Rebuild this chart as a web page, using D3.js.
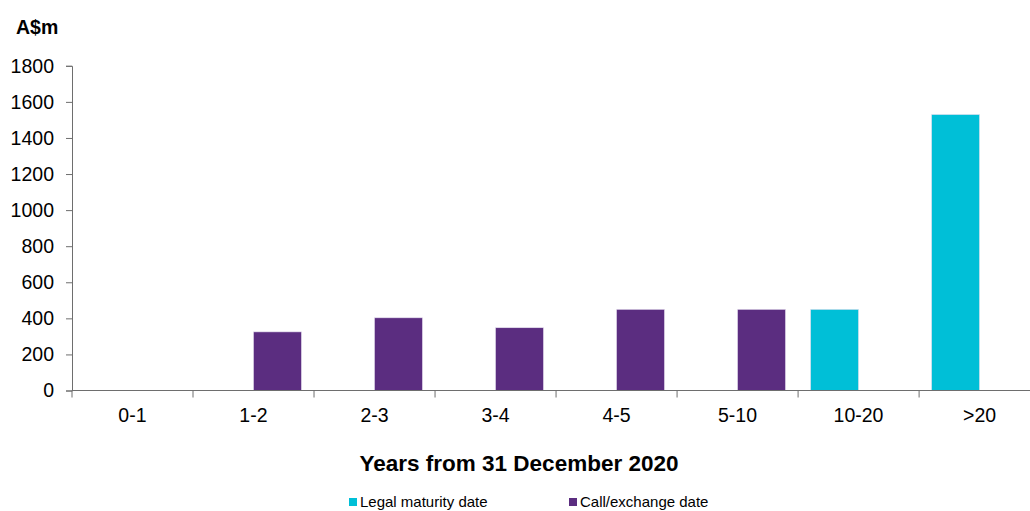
<!DOCTYPE html>
<html>
<head>
<meta charset="utf-8">
<script src="https://cdn.jsdelivr.net/npm/d3@7"></script>
<style>
  body { margin: 0; background: #fff; }
  svg { display: block; font-family: "Liberation Sans", Arial, sans-serif; }
</style>
</head>
<body>
<svg id="canvas" width="1030" height="511"></svg>
<script>
const categories = ["0-1", "1-2", "2-3", "3-4", "4-5", "5-10", "10-20", ">20"];
const series_names = ["Legal maturity date", "Call/exchange date"];
const series_colors = ["#00bfd7", "#5b2d80"];
const legal_maturity = [0, 0, 0, 0, 0, 0, 450, 1530];
const call_exchange = [0, 325, 403, 348, 450, 450, 0, 0];
const y_ticks = [0, 200, 400, 600, 800, 1000, 1200, 1400, 1600, 1800];

const svg = d3.select("svg#canvas");

const x = d3.scaleBand()
    .domain(categories)
    .range([72, 1040])
    .paddingInner(0.207)
    .paddingOuter(0.103);

const x_inner = d3.scaleBand()
    .domain(series_names)
    .range([0, x.bandwidth()]);

const y = d3.scaleLinear()
    .domain([0, 1800])
    .range([390.5, 65.8]);

const rows = categories.map((c, i) => ({
    cat: c,
    vals: [legal_maturity[i], call_exchange[i]]
}));

// bars
svg.append("g")
    .selectAll("g")
    .data(rows)
    .join("g")
    .attr("transform", d => `translate(${x(d.cat)},0)`)
    .selectAll("rect")
    .data(d => d.vals.map((v, j) => ({ name: series_names[j], v: v, j: j })))
    .join("rect")
    .filter(d => d.v > 0)
    .attr("x", d => x_inner(d.name))
    .attr("width", x_inner.bandwidth())
    .attr("y", d => y(d.v))
    .attr("height", d => y(0) - y(d.v))
    .attr("fill", d => series_colors[d.j])
    .attr("stroke", "#e6e0ef")
    .attr("stroke-width", 0.6);

// y axis
const y_axis = svg.append("g")
    .attr("transform", "translate(72,0)")
    .call(d3.axisLeft(y).tickValues(y_ticks).tickSize(6).tickPadding(12).tickFormat(d3.format("d")));

// x axis
const x_step = x.step();
const x_ticks = d3.range(categories.length + 1).map(i => 72 + i * x_step);
const x_axis = svg.append("g").attr("transform", `translate(0,${y(0)})`);
x_axis.append("line")
    .attr("x1", 72).attr("x2", 1040)
    .attr("stroke", "#6e6e6e");
x_axis.selectAll("line.tk")
    .data(x_ticks)
    .join("line")
    .attr("class", "tk")
    .attr("x1", d => d).attr("x2", d => d)
    .attr("y1", 0).attr("y2", 7)
    .attr("stroke", "#6e6e6e");
x_axis.selectAll("text")
    .data(categories)
    .join("text")
    .attr("x", d => x(d) + x.bandwidth() / 2)
    .attr("y", 31)
    .attr("text-anchor", "middle")
    .attr("font-size", 19.5)
    .attr("fill", "#000")
    .text(d => d);

y_axis.select(".domain").attr("stroke", "#6e6e6e");
y_axis.selectAll(".tick line").attr("stroke", "#6e6e6e");
y_axis.selectAll(".tick text")
    .attr("font-size", 19.5)
    .attr("fill", "#000")
    .attr("font-family", "Liberation Sans, Arial, sans-serif");

// unit label
svg.append("text")
    .attr("x", 16).attr("y", 34)
    .attr("font-size", 19.5)
    .attr("font-weight", "bold")
    .text("A$m");

// x title
svg.append("text")
    .attr("x", 519).attr("y", 471)
    .attr("text-anchor", "middle")
    .attr("font-size", 22.5)
    .attr("font-weight", "bold")
    .text("Years from 31 December 2020");

// legend (kept just inside the bottom edge)
const legend_x = [349, 569];
const legend = svg.append("g")
    .selectAll("g")
    .data(series_names)
    .join("g")
    .attr("transform", (_, i) => `translate(${legend_x[i]},498)`);
legend.append("rect")
    .attr("width", 8).attr("height", 8)
    .attr("fill", (_, i) => series_colors[i]);
legend.append("text")
    .attr("x", 11).attr("y", 9)
    .attr("font-size", 15)
    .text(d => d);
</script>
</body>
</html>
